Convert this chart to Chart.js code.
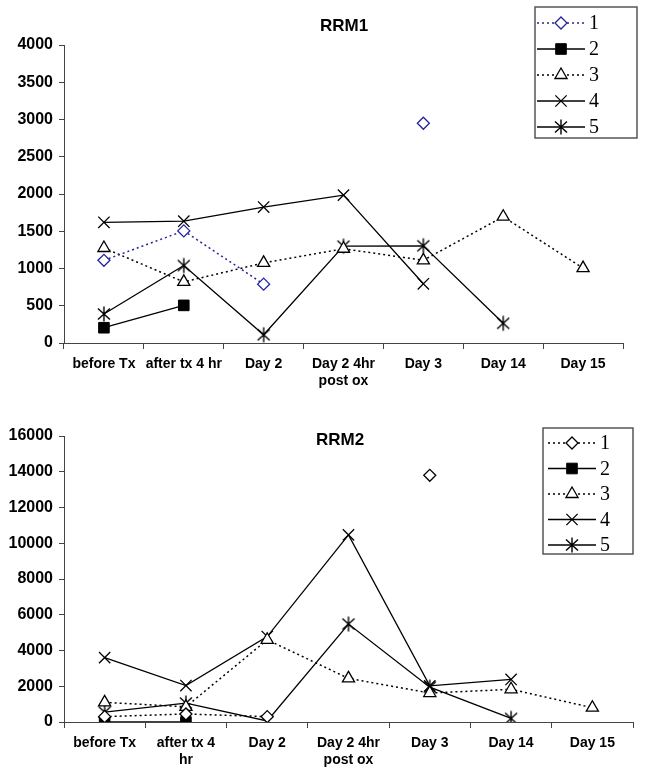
<!DOCTYPE html>
<html>
<head>
<meta charset="utf-8">
<script src="https://cdn.jsdelivr.net/npm/chart.js@4"></script>
<style>
body { margin: 0; background: #fff; }
#wrap { position: relative; width: 649px; height: 777px; }
canvas { position: absolute; left: 0; }
</style>
</head>
<body>
<div id="wrap">
  <canvas id="rrm1" width="649" height="390" style="top:0px"></canvas>
  <canvas id="rrm2" width="649" height="387" style="top:390px"></canvas>
</div>
<script>
// categories
let labelsRRM1 = ["before Tx", "after tx 4 hr", "Day 2", ["Day 2 4hr", "post ox"], "Day 3", "Day 14", "Day 15"];
let labelsRRM2 = ["before Tx", ["after tx 4", "hr"], "Day 2", ["Day 2 4hr", "post ox"], "Day 3", "Day 14", "Day 15"];
let seriesNames = ["1", "2", "3", "4", "5"];

// RRM1 values
let rrm1_s1 = [1110, 1505, 790, null, 2950, null, null];
let rrm1_s2 = [205, 505, null, null, null, null, null];
let rrm1_s3 = [1275, 820, 1075, 1265, 1110, 1695, 1005];
let rrm1_s4 = [1620, 1635, 1825, 1985, 795, null, null];
let rrm1_s5 = [390, 1040, 110, 1300, 1305, 265, null];

// RRM2 values
let rrm2_s1 = [300, 450, 300, null, 13800, null, null];
let rrm2_s2 = [0, 0, null, null, null, null, null];
let rrm2_s3 = [1100, 850, 4600, 2440, 1620, 1830, 800];
let rrm2_s4 = [3600, 2040, 4780, 10470, 2020, 2380, null];
let rrm2_s5 = [550, 1060, 60, 5480, 1950, 200, null];

const FONT = "'Liberation Sans', Arial, Helvetica, sans-serif";
const SERIF = "'Liberation Serif', 'Times New Roman', serif";
const AXIS = '#444';

// asterisk marker (X with a vertical bar)
function makeAsterisk() {
    let c = document.createElement('canvas');
    c.width = 18; c.height = 18;
    let g = c.getContext('2d');
    g.strokeStyle = '#000';
    g.lineWidth = 1.4;
    g.beginPath();
    g.moveTo(3, 3.5); g.lineTo(15, 14.5);
    g.moveTo(15, 3.5); g.lineTo(3, 14.5);
    g.moveTo(9, 1.5); g.lineTo(9, 16.5);
    g.stroke();
    return c;
}
const asterisk = makeAsterisk();

function buildDatasets(values, firstColor) {
    return [
        { label: seriesNames[0], data: values[0], borderColor: firstColor, borderDash: [2, 3], borderWidth: 1.5,
          pointStyle: 'rectRot', pointRadius: 6, pointBorderColor: firstColor, pointBackgroundColor: '#fff', pointBorderWidth: 1.3 },
        { label: seriesNames[1], data: values[1], borderColor: '#000', borderWidth: 1.3,
          pointStyle: 'rect', pointRadius: 7.5, pointBorderColor: '#000', pointBackgroundColor: '#000', pointBorderWidth: 1 },
        { label: seriesNames[2], data: values[2], borderColor: '#000', borderDash: [2, 3], borderWidth: 1.5,
          pointStyle: 'triangle', pointRadius: 7, pointBorderColor: '#000', pointBackgroundColor: '#fff', pointBorderWidth: 1.3 },
        { label: seriesNames[3], data: values[3], borderColor: '#000', borderWidth: 1.3,
          pointStyle: 'crossRot', pointRadius: 8, pointBorderColor: '#000', pointBackgroundColor: '#000', pointBorderWidth: 1.3 },
        { label: seriesNames[4], data: values[4], borderColor: '#000', borderWidth: 1.3,
          pointStyle: asterisk, pointRadius: 8, pointBorderColor: '#000', pointBackgroundColor: '#000', pointBorderWidth: 1.3 }
    ];
}

// title + boxed legend drawn at fixed spots
const boxLegend = {
    id: 'boxLegend',
    afterDraw(chart, args, opts) {
        const ctx = chart.ctx;
        ctx.save();
        ctx.fillStyle = '#000';
        ctx.font = 'bold 17px ' + FONT;
        ctx.textAlign = 'center';
        ctx.textBaseline = 'middle';
        ctx.fillText(opts.title, opts.titleX, opts.titleY);

        ctx.strokeStyle = '#555';
        ctx.lineWidth = 1.5;
        ctx.strokeRect(opts.x, opts.y, opts.w, opts.h);

        chart.data.datasets.forEach(function (ds, i) {
            let cy = opts.rowY + i * opts.rowH;
            ctx.save();
            ctx.strokeStyle = ds.borderColor;
            ctx.lineWidth = ds.borderWidth;
            ctx.setLineDash(ds.borderDash || []);
            ctx.beginPath();
            ctx.moveTo(opts.lineX0, cy);
            ctx.lineTo(opts.lineX1, cy);
            ctx.stroke();
            ctx.restore();

            ctx.save();
            ctx.strokeStyle = ds.pointBorderColor;
            ctx.fillStyle = ds.pointBackgroundColor;
            ctx.lineWidth = ds.pointBorderWidth;
            Chart.helpers.drawPoint(ctx, {
                pointStyle: ds.pointStyle, radius: ds.pointRadius, rotation: 0, borderWidth: ds.pointBorderWidth
            }, (opts.lineX0 + opts.lineX1) / 2, cy);
            ctx.restore();

            ctx.fillStyle = '#000';
            ctx.font = '20px ' + SERIF;
            ctx.textAlign = 'left';
            ctx.textBaseline = 'middle';
            ctx.fillText(ds.label, opts.textX, cy + 1);
        });
        ctx.restore();
    }
};

function makeChart(id, labels, datasets, yMax, yStep, yWidth, xHeight, pad, legendOpts) {
    return new Chart(document.getElementById(id), {
        type: 'line',
        data: { labels: labels, datasets: datasets },
        options: {
            responsive: false,
            animation: false,
            events: [],
            layout: { padding: pad },
            scales: {
                x: {
                    offset: true,
                    grid: { offset: true, drawOnChartArea: false, drawTicks: true, tickLength: 6, color: AXIS },
                    border: { color: AXIS, width: 1 },
                    ticks: {
                        color: '#000', autoSkip: false, maxRotation: 0, minRotation: 0, padding: 6,
                        font: { family: FONT, size: 14, weight: 'bold', lineHeight: 1.25 }
                    },
                    afterFit: function (s) { s.height = xHeight; }
                },
                y: {
                    min: 0, max: yMax,
                    grid: { drawOnChartArea: false, drawTicks: true, tickLength: 5, color: AXIS },
                    border: { color: AXIS, width: 1 },
                    ticks: {
                        stepSize: yStep, color: '#000', padding: 6,
                        font: { family: FONT, size: 16, weight: 'bold' },
                        callback: function (v) { return String(v); }
                    },
                    afterFit: function (s) { s.width = yWidth; }
                }
            },
            plugins: {
                legend: { display: false },
                tooltip: { enabled: false },
                boxLegend: legendOpts
            }
        },
        plugins: [boxLegend]
    });
}

makeChart('rrm1', labelsRRM1,
    buildDatasets([rrm1_s1, rrm1_s2, rrm1_s3, rrm1_s4, rrm1_s5], '#25259a'),
    4000, 500, 64, 47, { top: 45, right: 26, left: 0, bottom: 0 },
    { title: 'RRM1', titleX: 344, titleY: 26, x: 535, y: 7, w: 102, h: 131,
      rowY: 23, rowH: 26, lineX0: 537, lineX1: 585, textX: 589 });

makeChart('rrm2', labelsRRM2,
    buildDatasets([rrm2_s1, rrm2_s2, rrm2_s3, rrm2_s4, rrm2_s5], '#000'),
    16000, 2000, 64, 55, { top: 46, right: 16, left: 0, bottom: 0 },
    { title: 'RRM2', titleX: 340, titleY: 50, x: 543, y: 38, w: 90, h: 126,
      rowY: 53, rowH: 25.5, lineX0: 548, lineX1: 596, textX: 600 });
</script>
</body>
</html>
